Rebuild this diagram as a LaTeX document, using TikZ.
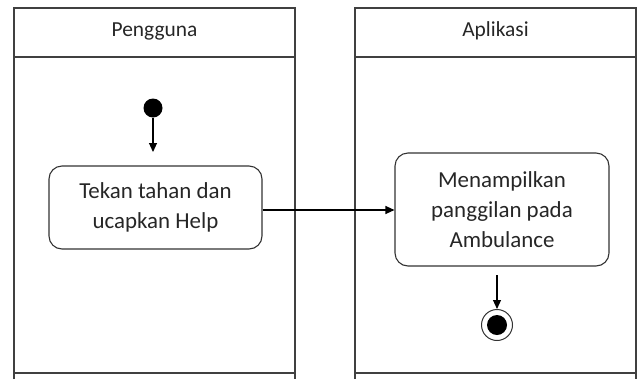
\documentclass[tikz,border=0pt]{standalone}
\usepackage{fontspec}
\setmainfont{Carlito}
\usetikzlibrary{arrows.meta}
\begin{document}
\begin{tikzpicture}[x=1bp,y=-1bp,
  lane/.style={draw=black!75,line width=1.4bp},
  title/.style={font=\fontsize{21.5}{24}\selectfont,text=black!85},
  action/.style={draw=black!80,line width=1.1bp,rounded corners=13bp,align=center,
    font=\fontsize{23}{30}\selectfont,text=black!85,inner sep=0pt},
  flow/.style={draw=black,line width=1.1bp,-{Triangle[length=9bp,width=8bp]}},
  startdot/.style={circle,fill=black,minimum size=19bp,inner sep=0pt},
  enddot/.style={circle,draw=black!80,line width=1bp,fill=white,minimum size=31bp,inner sep=0pt}]
\useasboundingbox (0,0) rectangle (641,379);
% swimlanes
\draw[lane] (14,379) -- (14,8) -- (295,8) -- (295,379);
\draw[lane] (14,57) -- (295,57);
\draw[lane] (14,373) -- (295,373);
\draw[lane] (355,379) -- (355,8) -- (636,8) -- (636,379);
\draw[lane] (355,57) -- (636,57);
\draw[lane] (355,373) -- (636,373);
\node[title] (laneA) at (154.5,31) {Pengguna};
\node[title] (laneB) at (495.5,31) {Aplikasi};
% activity flow
\node[startdot] (start) at (153,108) {};
\node[action,minimum width=213bp,minimum height=83bp] (press) at (155.5,207.5)
  {Tekan tahan dan\\ucapkan Help};
\node[action,minimum width=214bp,minimum height=113bp] (show) at (502,209.5)
  {Menampilkan\\panggilan pada\\Ambulance};
\node[enddot] (finish) at (497,325) {};
\node[circle,fill=black,minimum size=20bp,inner sep=0pt] (finishcore) at (finish) {};
\coordinate (startfoot) at (153,152);
\coordinate (showfoot) at (497,275);
\draw[flow] (start) -- (startfoot);
\draw[flow] (press.east |- 0,210) -- (show.west |- 0,210);
\draw[flow] (showfoot) -- (finish.north);
\end{tikzpicture}
\end{document}
